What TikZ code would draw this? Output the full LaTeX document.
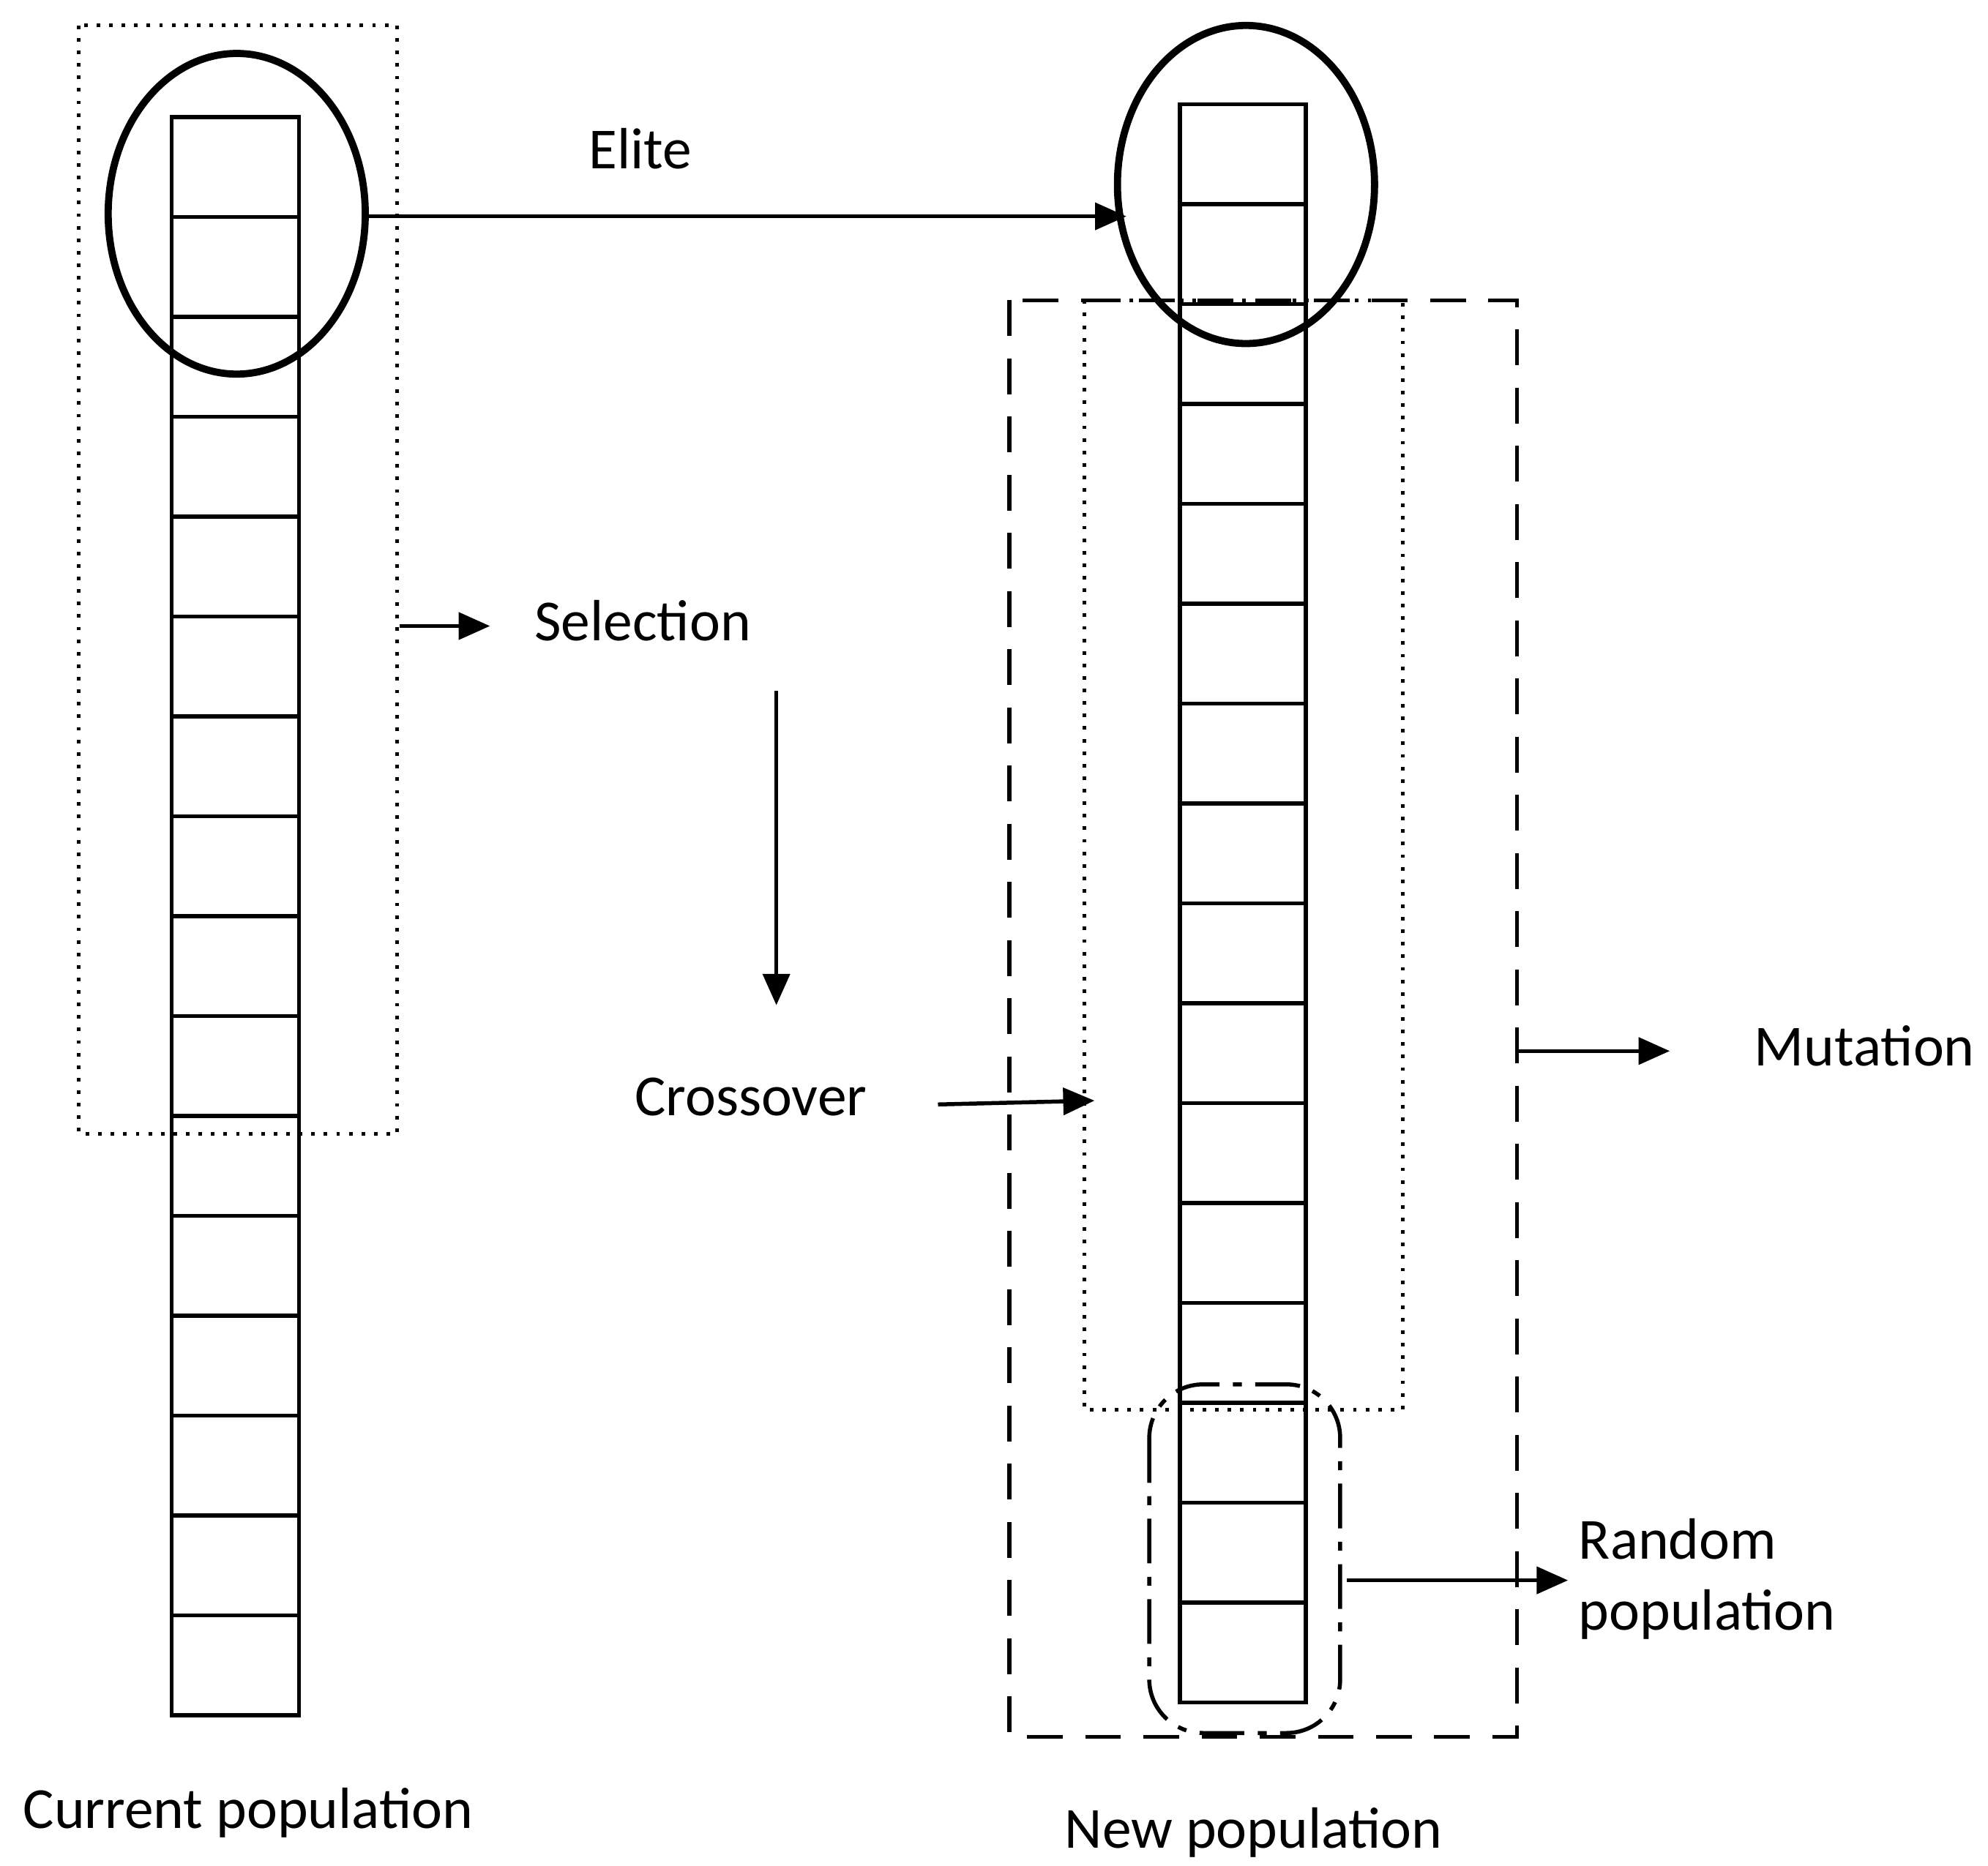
\documentclass[tikz,border=0pt]{standalone}
\usepackage{fontspec}
\setmainfont{Carlito}
\usetikzlibrary{arrows.meta}
\begin{document}
\begin{tikzpicture}[x=0.01cm,y=-0.01cm,
  cell/.style={draw,line width=0.9pt},
  arr/.style={-{Triangle[length=7pt,width=6pt]},line width=0.9pt},
  lbl/.style={font=\fontsize{13}{16}\selectfont}]
\useasboundingbox (0,0) rectangle (1562,1466);
% left column
\foreach \i in {0,...,15}{
  \draw[cell] (135,{92+\i*78.5}) rectangle (235,{92+(\i+1)*78.5});}
\draw[dotted,line width=0.8pt] (62,20) rectangle (312,891);
\draw[line width=1.6pt] (186,168) ellipse [x radius=101, y radius=126];
% right column
\foreach \i in {0,...,15}{
  \draw[cell] (927,{82+\i*78.5}) rectangle (1026,{82+(\i+1)*78.5});}
\draw[line width=1.6pt] (979,145) ellipse [x radius=101, y radius=125];
\draw[line width=0.9pt,dash pattern=on 8pt off 5pt] (793,236) rectangle (1192,1365);
\draw[dotted,line width=0.8pt] (852,236) rectangle (1102,1108);
\draw[dash pattern=on 10pt off 3pt on 2pt off 3pt,line width=0.9pt,rounded corners=12pt] (903,1088) rectangle (1053,1362);
% coordinates
\coordinate (e1) at (288,170); \coordinate (e2) at (885,170);
\coordinate (s1) at (314,492); \coordinate (s2) at (385,492);
\coordinate (d1) at (610,543); \coordinate (d2) at (610,790);
\coordinate (c1) at (737,868); \coordinate (c2) at (860,865);
\coordinate (m1) at (1192,826); \coordinate (m2) at (1312,826);
\coordinate (r1) at (1058,1242); \coordinate (r2) at (1232,1242);
\draw[arr] (e1) -- (e2);
\draw[arr] (s1) -- (s2);
\draw[arr] (d1) -- (d2);
\draw[arr] (c1) -- (c2);
\draw[arr] (m1) -- (m2);
\draw[arr] (r1) -- (r2);
% labels
\node[lbl] (elite) at (503,117) {Elite};
\node[lbl] (sel) at (505,488) {Selection};
\node[lbl] (cro) at (590,862) {Crossover};
\node[lbl] (mut) at (1465,822) {Mutation};
\node[lbl,anchor=west,align=left] (rnd) at (1228,1241) {Random\\population};
\node[lbl] (cur) at (195,1425) {Current population};
\node[lbl] (new) at (985,1440) {New population};
\end{tikzpicture}
\end{document}
